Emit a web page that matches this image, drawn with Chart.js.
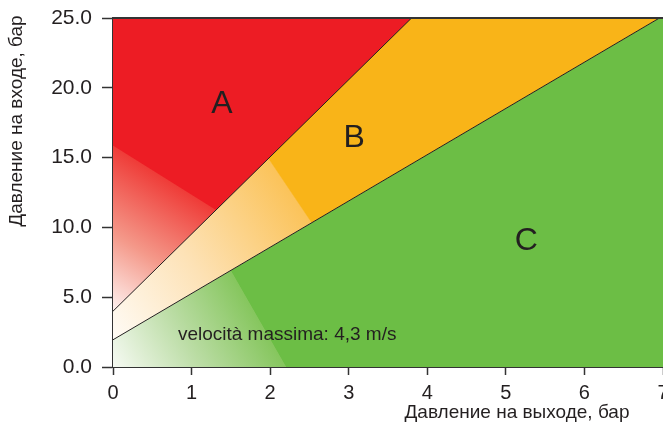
<!DOCTYPE html>
<html>
<head>
<meta charset="utf-8">
<script src="https://cdn.jsdelivr.net/npm/chart.js@4"></script>
<style>
  html, body { margin: 0; padding: 0; background: #fff; overflow: hidden; }
  #wrap { width: 663px; height: 428px; overflow: hidden; }
</style>
</head>
<body>
<div id="wrap"><canvas id="pressureChart" width="680" height="428"></canvas></div>
<script>
// axis ticks
const xTicks = [0, 1, 2, 3, 4, 5, 6, 7];
const yTicks = [0, 5, 10, 15, 20, 25];

// boundary lines (outlet pressure, inlet pressure)
const upperLine = [{x: 0, y: 4.0}, {x: 3.8, y: 25}];
const lowerLine = [{x: 0, y: 1.95}, {x: 7, y: 25.15}];

// where the white fade of each zone ends
const redFadeEdge = [[0, 15.9], [1.32, 11.25]];
const orangeFadeEdge = [[2.0, 14.83], [2.53, 10.39]];
const greenFadeEdge = [[1.525, 6.73], [2.21, 0]];

// zone labels
const zoneLabels = ['A', 'B', 'C'];
const zoneLabelX = [1.385, 3.07, 5.26];
const zoneLabelY = [18.8, 16.4, 9.0];

const noteText = 'velocità massima: 4,3 m/s';
const noteX = 0.826;
const noteY = 1.93;

const xTitle = 'Давление на выходе, бар';
const yTitle = 'Давление на входе, бар';

const RED = '#ED1C24', ORANGE = '#F9B418', GREEN = '#6CBE45';
const INK = '#231F20';
const FONT = '"Liberation Sans", Arial, sans-serif';

// white -> colour fade, hard edge along the given line
function fadeGradient(chart, edge, stops, solid) {
    const area = chart.chartArea;
    if (!area) return solid;
    const xs = chart.scales.x, ys = chart.scales.y;
    const ox = xs.getPixelForValue(0), oy = ys.getPixelForValue(0);
    const ax = xs.getPixelForValue(edge[0][0]), ay = ys.getPixelForValue(edge[0][1]);
    const bx = xs.getPixelForValue(edge[1][0]), by = ys.getPixelForValue(edge[1][1]);
    const dx = bx - ax, dy = by - ay;
    const len = Math.hypot(dx, dy);
    let nx = dy / len, ny = -dx / len;
    let dist = (ax - ox) * nx + (ay - oy) * ny;
    if (dist < 0) { nx = -nx; ny = -ny; dist = -dist; }
    const g = chart.ctx.createLinearGradient(ox, oy, ox + nx * dist, oy + ny * dist);
    stops.forEach(s => g.addColorStop(s[0], s[1]));
    g.addColorStop(1, solid);
    return g;
}

const overlay = {
    id: 'overlay',
    afterDraw(chart) {
        const ctx = chart.ctx, area = chart.chartArea;
        const xs = chart.scales.x, ys = chart.scales.y;
        ctx.save();
        // top frame line
        ctx.strokeStyle = '#333';
        ctx.lineWidth = 2;
        ctx.beginPath();
        ctx.moveTo(area.left - 1, area.top);
        ctx.lineTo(area.right + 20, area.top);
        ctx.stroke();

        ctx.fillStyle = INK;
        ctx.font = '32px ' + FONT;
        ctx.textAlign = 'center';
        ctx.textBaseline = 'middle';
        zoneLabels.forEach((t, i) => {
            ctx.fillText(t, xs.getPixelForValue(zoneLabelX[i]), ys.getPixelForValue(zoneLabelY[i]));
        });

        ctx.font = '19px ' + FONT;
        ctx.textAlign = 'left';
        ctx.textBaseline = 'alphabetic';
        ctx.fillText(noteText, xs.getPixelForValue(noteX), ys.getPixelForValue(noteY));

        ctx.textAlign = 'center';
        ctx.textBaseline = 'middle';
        ctx.fillText(xTitle, 517, 413);
        ctx.translate(17, 121);
        ctx.rotate(-Math.PI / 2);
        ctx.fillText(yTitle, 0, 0);
        ctx.restore();
    }
};

new Chart(document.getElementById('pressureChart'), {
    type: 'scatter',
    data: {
        datasets: [
            {
                label: 'A',
                data: upperLine,
                showLine: true,
                pointRadius: 0,
                borderColor: INK,
                borderWidth: 1,
                fill: 'end',
                backgroundColor: c => fadeGradient(c.chart, redFadeEdge,
                    [[0, '#ffffff'], [0.2, '#ffffff'], [0.6, '#F4998A'], [0.995, '#EF3C38']], RED)
            },
            {
                label: 'B',
                data: lowerLine,
                showLine: true,
                pointRadius: 0,
                borderColor: INK,
                borderWidth: 1,
                fill: 'end',
                backgroundColor: c => fadeGradient(c.chart, orangeFadeEdge,
                    [[0, '#ffffff'], [0.5, '#FDE2B6'], [0.995, '#FBC35A']], ORANGE)
            },
            {
                label: 'C',
                data: lowerLine,
                showLine: true,
                pointRadius: 0,
                borderWidth: 0,
                borderColor: 'rgba(0,0,0,0)',
                fill: 'start',
                backgroundColor: c => fadeGradient(c.chart, greenFadeEdge,
                    [[0, '#F6FAF3'], [0.5, '#BCDDA6'], [0.995, '#86C65E']], GREEN)
            }
        ]
    },
    options: {
        responsive: false,
        animation: false,
        layout: { padding: { top: 18, right: 17, left: 0, bottom: 0 } },
        plugins: {
            legend: { display: false },
            tooltip: { enabled: false }
        },
        scales: {
            x: {
                type: 'linear',
                min: 0,
                max: 7,
                afterFit: s => { s.height = 61; s.paddingLeft = 0; s.paddingRight = 0; },
                afterBuildTicks: s => { s.ticks = xTicks.map(v => ({value: v})); },
                ticks: {
                    color: INK,
                    font: {family: FONT, size: 20},
                    padding: 6,
                    maxRotation: 0
                },
                grid: { drawOnChartArea: false, tickLength: 8, tickColor: '#333', tickWidth: 1.5 },
                border: { color: '#333', width: 2 }
            },
            y: {
                type: 'linear',
                min: 0,
                max: 25,
                afterFit: s => { s.width = 113; s.paddingTop = 0; s.paddingBottom = 0; },
                afterBuildTicks: s => { s.ticks = yTicks.map(v => ({value: v})); },
                ticks: {
                    color: INK,
                    font: {family: FONT, size: 21},
                    padding: 10,
                    callback: v => v.toFixed(1)
                },
                grid: { drawOnChartArea: false, tickLength: 11, tickColor: '#333', tickWidth: 1.5 },
                border: { color: '#333', width: 2 }
            }
        }
    },
    plugins: [overlay]
});
</script>
</body>
</html>
